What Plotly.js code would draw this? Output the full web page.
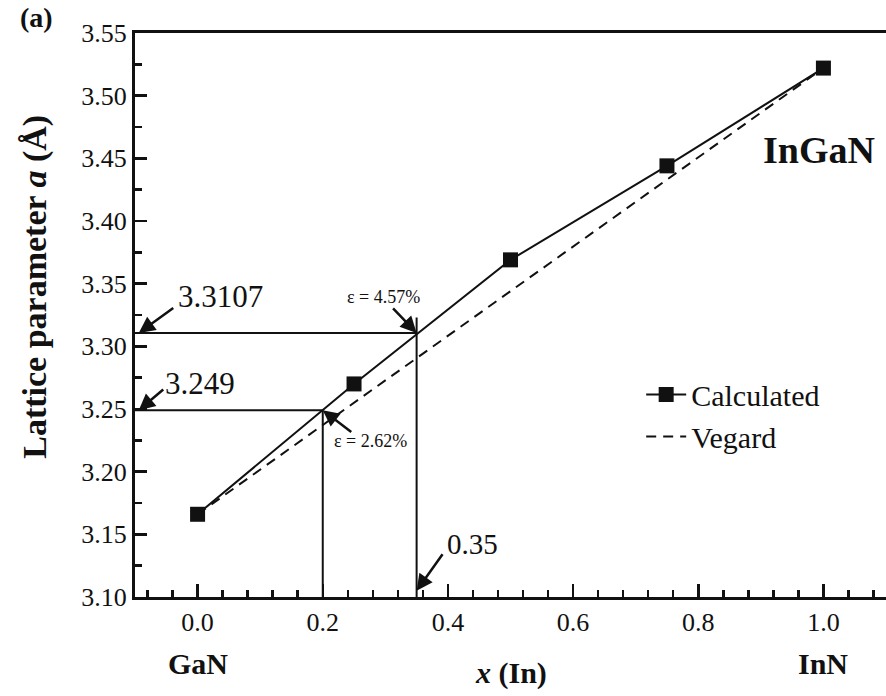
<!DOCTYPE html>
<html><head><meta charset="utf-8">
<script src="https://cdn.plot.ly/plotly-3.0.1.min.js"></script>
<style>html,body{margin:0;padding:0;background:#fff}#chart{width:886px;height:696px}</style>
</head><body><div id="chart"></div>
<script>
// Data
const calcX = [0, 0.25, 0.5, 0.75, 1.0];
const calcY = [3.166, 3.270, 3.369, 3.444, 3.522];
const vegardX = [0, 1.0];
const vegardY = [3.166, 3.522];
const guideX = [0.2, 0.35];
const guideY = [3.249, 3.3107];
const guideTopY = [3.249, 3.323];
const strainLabels = ['ε = 2.62%', 'ε = 4.57%'];
const valueLabels = ['3.249', '3.3107'];
const xTickVals = [0, 0.2, 0.4, 0.6, 0.8, 1.0];
const endLabels = ['GaN', 'InN'];
const endX = [0, 1.0];

const FONT = '"Liberation Serif", serif';
const xMin = -0.1, xMax = 1.1, yMin = 3.10, yMax = 3.55;

const traces = [
  {x: calcX, y: calcY, mode: 'lines+markers', name: 'Calculated',
   line: {color: '#111', width: 2}, marker: {symbol: 'square', size: 15, color: '#111'}},
  {x: vegardX, y: vegardY, mode: 'lines', name: 'Vegard',
   line: {color: '#111', width: 2, dash: '10px,7px'}}
];

const shapes = [];
for (let i = 0; i < guideX.length; i++) {
  shapes.push({type: 'line', xref: 'x', yref: 'y', x0: xMin, x1: guideX[i], y0: guideY[i], y1: guideY[i], line: {color: '#111', width: 2}});
  shapes.push({type: 'line', xref: 'x', yref: 'y', x0: guideX[i], x1: guideX[i], y0: yMin, y1: guideTopY[i], line: {color: '#111', width: 2}});
}

const ann = [];
const arrowStyle = {showarrow: true, arrowhead: 2, arrowsize: 1.3, arrowwidth: 2.5, arrowcolor: '#111', text: ''};
// value labels with arrows pointing to y-axis
ann.push(Object.assign({}, arrowStyle, {x: xMin + 0.006, y: guideY[1], xref: 'x', yref: 'y', ax: 36, ay: -26}));
ann.push({x: xMin + 0.065, y: guideY[1], xref: 'x', yref: 'y', text: valueLabels[1], showarrow: false, xanchor: 'left', yanchor: 'middle', yshift: 36, font: {family: FONT, size: 31, color: '#111'}});
ann.push(Object.assign({}, arrowStyle, {x: xMin + 0.006, y: guideY[0], xref: 'x', yref: 'y', ax: 26, ay: -22}));
ann.push({x: xMin + 0.045, y: guideY[0], xref: 'x', yref: 'y', text: valueLabels[0], showarrow: false, xanchor: 'left', yanchor: 'middle', yshift: 27, font: {family: FONT, size: 31, color: '#111'}});
// strain labels
ann.push(Object.assign({}, arrowStyle, {x: guideX[1], y: guideY[1], xref: 'x', yref: 'y', ax: -25, ay: -26}));
ann.push({x: guideX[1], y: guideY[1], xref: 'x', yref: 'y', text: strainLabels[1], showarrow: false, xanchor: 'center', yanchor: 'middle', xshift: -33, yshift: 36, font: {family: FONT, size: 18, color: '#111'}});
ann.push(Object.assign({}, arrowStyle, {x: guideX[0], y: guideY[0], xref: 'x', yref: 'y', ax: 30, ay: 23}));
ann.push({x: guideX[0], y: guideY[0], xref: 'x', yref: 'y', text: strainLabels[0], showarrow: false, xanchor: 'center', yanchor: 'middle', xshift: 48, yshift: -31, font: {family: FONT, size: 18, color: '#111'}});
// 0.35 label
ann.push(Object.assign({}, arrowStyle, {x: guideX[1], y: yMin + 0.005, xref: 'x', yref: 'y', ax: 27, ay: -38}));
ann.push({x: guideX[1], y: yMin, xref: 'x', yref: 'y', text: String(guideX[1]), showarrow: false, xanchor: 'center', yanchor: 'middle', xshift: 56, yshift: 53, font: {family: FONT, size: 29, color: '#111'}});
// InGaN
ann.push({x: 0.9, y: 3.457, xref: 'x', yref: 'y', text: '<b>InGaN</b>', showarrow: false, xanchor: 'left', yanchor: 'middle', font: {family: FONT, size: 38, color: '#111'}});
// GaN / InN
for (let i = 0; i < endLabels.length; i++) {
  ann.push({x: endX[i], y: 0, xref: 'x', yref: 'paper', yshift: -66, text: '<b>' + endLabels[i] + '</b>', showarrow: false, xanchor: 'center', yanchor: 'middle', font: {family: FONT, size: 30, color: '#111'}});
}
// x title
ann.push({x: 0.5, y: 0, xref: 'x', yref: 'paper', xshift: 0, yshift: -76, text: '<b><i>x</i> (In)</b>', showarrow: false, xanchor: 'center', yanchor: 'middle', font: {family: FONT, size: 30, color: '#111'}});
// y title
ann.push({x: 0, y: 0.55, xref: 'paper', yref: 'paper', xshift: -100, text: '<b>Lattice parameter <i>a</i> (Å)</b>', textangle: -90, showarrow: false, xanchor: 'center', yanchor: 'middle', font: {family: FONT, size: 34, color: '#111'}});
// panel label
ann.push({x: 0, y: 1, xref: 'paper', yref: 'paper', xshift: -99, yshift: 16, text: '<b>(a)</b>', showarrow: false, xanchor: 'center', yanchor: 'middle', font: {family: FONT, size: 28, color: '#111'}});

const layout = {
  width: 886, height: 696,
  margin: {l: 135, r: 0, t: 33, b: 99},
  paper_bgcolor: '#fff', plot_bgcolor: '#fff',
  font: {family: FONT, color: '#111'},
  showlegend: true,
  legend: {x: 0.674, y: 0.405, xanchor: 'left', yanchor: 'top', bgcolor: 'rgba(0,0,0,0)', font: {family: FONT, size: 30, color: '#111'}, itemwidth: 40, tracegroupgap: 0},
  xaxis: {range: [xMin, xMax], tickvals: xTickVals, tickformat: '.1f', ticks: 'inside', ticklen: 13, tickwidth: 2.5, tickcolor: '#111',
    showline: true, linewidth: 3, linecolor: '#111', mirror: true, showgrid: false, zeroline: false,
    tickfont: {family: FONT, size: 26, color: '#111'},
    minor: {dtick: 0.04, tick0: 0, ticks: 'inside', ticklen: 7, tickwidth: 2.5, tickcolor: '#111', showgrid: false}},
  yaxis: {range: [yMin, yMax], dtick: 0.05, tick0: 3.10, tickformat: '.2f', ticks: 'inside', ticklen: 12, tickwidth: 2.5, tickcolor: '#111',
    showline: true, linewidth: 3, linecolor: '#111', mirror: false, showgrid: false, zeroline: false,
    tickfont: {family: FONT, size: 26, color: '#111'},
    minor: {dtick: 0.025, ticks: 'inside', ticklen: 7, tickwidth: 2.5, tickcolor: '#111', showgrid: false}},
  shapes: shapes,
  annotations: ann
};

Plotly.newPlot('chart', traces, layout, {displayModeBar: false, staticPlot: true});
</script></body></html>
